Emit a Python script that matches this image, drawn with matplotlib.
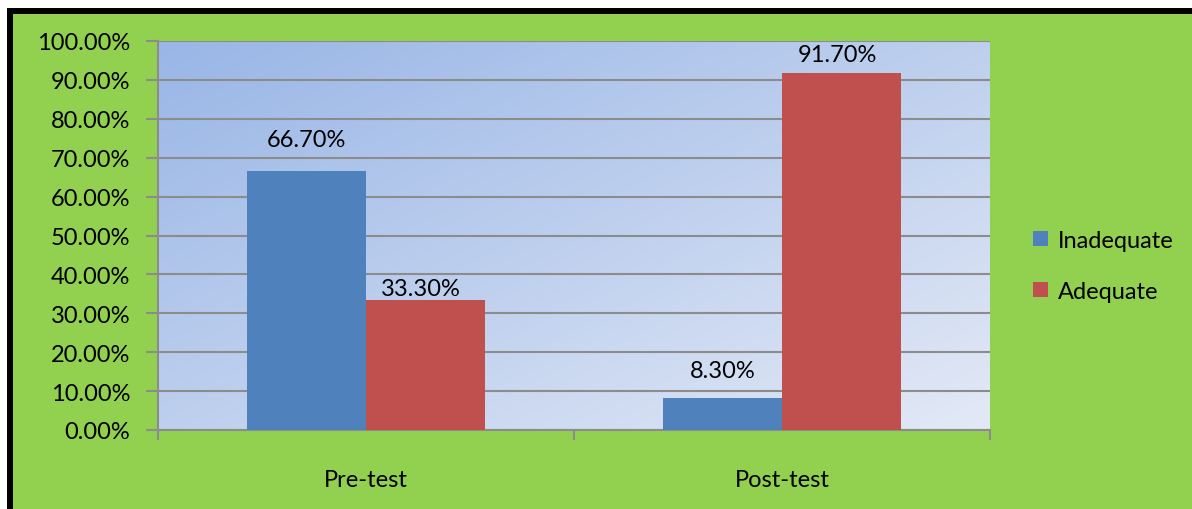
import matplotlib
matplotlib.use("Agg")
import matplotlib.pyplot as plt
import numpy as np
from matplotlib.patches import Rectangle
from matplotlib.colors import LinearSegmentedColormap

categories = ["Pre-test", "Post-test"]
inadequate = [66.7, 8.3]
adequate = [33.3, 91.7]
series_names = ["Inadequate", "Adequate"]
yticks = [0, 10, 20, 30, 40, 50, 60, 70, 80, 90, 100]

plt.rcParams['font.family'] = ['Lato', 'DejaVu Sans']
W, H = 1192, 510
FS = 17
fig = plt.figure(figsize=(W/100, H/100), dpi=100, facecolor="white")

# frame: black border top/left then green background
fig.patches.append(Rectangle((7/W, 0), 1, 1 - 9/H, transform=fig.transFigure,
                             facecolor="black", edgecolor="none", zorder=-10))
fig.patches.append(Rectangle((13/W, 0), 1, 1 - 15/H, transform=fig.transFigure,
                             facecolor="#92D050", edgecolor="none", zorder=-9))

ax = fig.add_axes([158/W, 1 - 431/H, (990-158)/W, (431-42)/H])
ax.set_facecolor("none")

# gradient background: darker top-left, lighter bottom-right
cmap = LinearSegmentedColormap.from_list("g", ["#99B6E6", "#E3E9F6"])
gx, gy = np.meshgrid(np.linspace(0, 1, 200), np.linspace(0, 1, 200))
grad = (gx + gy) / 2
ax.imshow(grad, cmap=cmap, extent=[0, 1, 0, 1], transform=ax.transAxes,
          aspect="auto", origin="upper", zorder=0)

x = np.arange(len(categories))
w = 0.286
b1 = ax.bar(x - w/2, inadequate, w, color="#4F81BD", zorder=3, label=series_names[0])
b2 = ax.bar(x + w/2, adequate, w, color="#C0504D", zorder=3, label=series_names[1])

ax.set_xlim(-0.5, 1.5)
ax.set_ylim(0, 100)
ax.set_yticks(yticks)
ax.set_yticklabels([f"{v:.2f}%" for v in yticks], fontsize=FS)
ax.yaxis.grid(True, color="#8C8C8C", linewidth=1.5, zorder=1)
ax.set_axisbelow(True)

ax.set_xticks(x)
ax.set_xticklabels(categories, fontsize=FS)
ax.tick_params(axis="x", which="major", length=0, pad=28)
ax.set_xticks([-0.5, 0.5, 1.5], minor=True)
ax.tick_params(axis="x", which="minor", length=7, width=1.5, color="#8C8C8C")
ax.tick_params(axis="y", length=9, width=1.5, color="#8C8C8C", pad=11)

for s in ["top", "right"]:
    ax.spines[s].set_visible(False)
for s in ["left", "bottom"]:
    ax.spines[s].set_color("#8C8C8C")
    ax.spines[s].set_linewidth(1.5)

offsets1 = [31, 27]
offsets2 = [12, 19]
for rect, v, off in zip(b1, inadequate, offsets1):
    ax.annotate(f"{v:.2f}%", (rect.get_x() + rect.get_width()/2, v),
                xytext=(0, off), textcoords="offset pixels",
                ha="center", va="center", fontsize=FS, zorder=5)
for rect, v, off in zip(b2, adequate, offsets2):
    ax.annotate(f"{v:.2f}%", (rect.get_x() + rect.get_width()/2 - 0.01, v),
                xytext=(0, off), textcoords="offset pixels",
                ha="center", va="center", fontsize=FS, zorder=5)

fig.legend(handles=[b1, b2], labels=series_names, loc="center left",
           bbox_to_anchor=(1024/W, 1 - 267/H), frameon=False, fontsize=FS,
           handlelength=0.6, handleheight=0.6, handletextpad=0.45,
           labelspacing=1.25, borderaxespad=0)

fig.savefig("out.png", dpi=100, facecolor=fig.get_facecolor())
